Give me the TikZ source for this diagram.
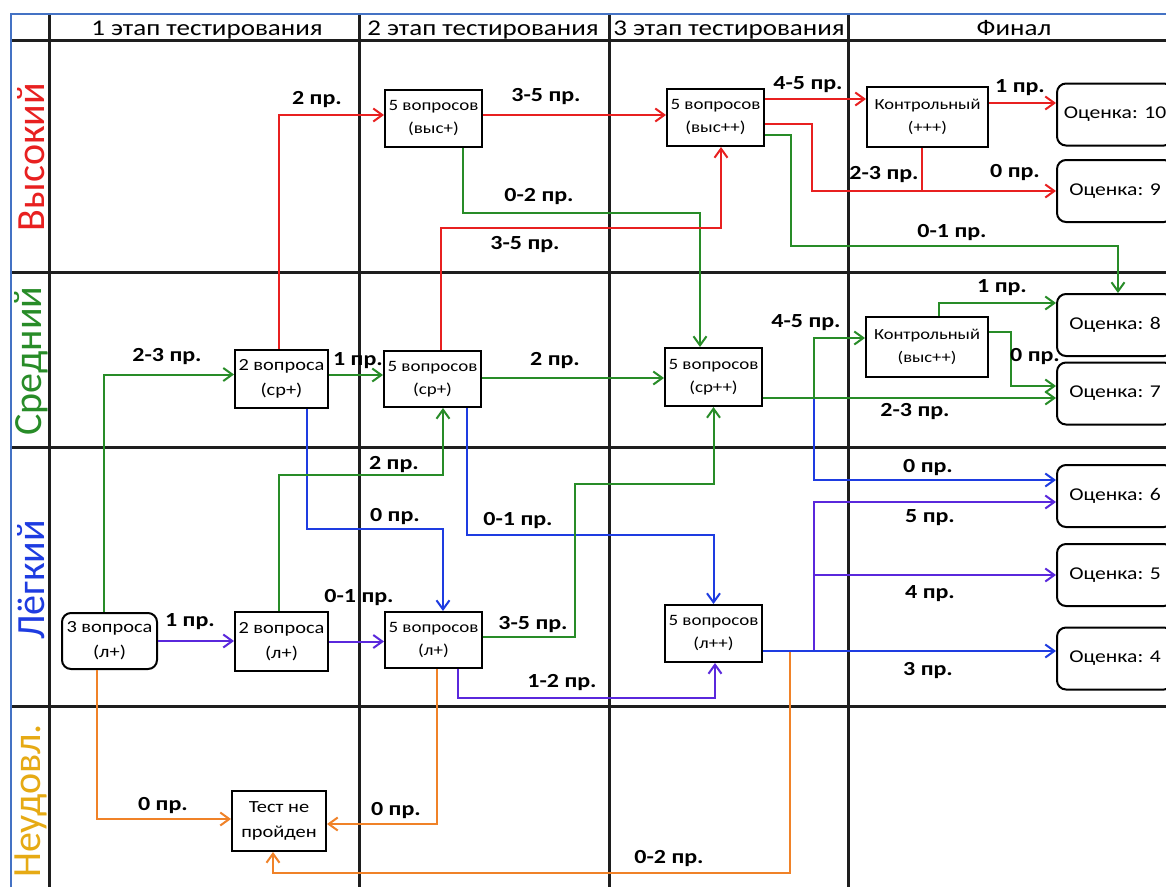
\documentclass[tikz,border=0pt]{standalone}
\usepackage{fontspec}
\setmainfont{Carlito}[FakeStretch=1.2]
\newfontfamily\rowfont{Carlito}
\usetikzlibrary{arrows.meta,calc}
\definecolor{cred}{RGB}{232,32,32}
\definecolor{cgrn}{RGB}{40,140,40}
\definecolor{cblu}{RGB}{30,60,225}
\definecolor{cvio}{RGB}{90,40,220}
\definecolor{cora}{RGB}{240,130,40}
\definecolor{cyel}{RGB}{230,170,20}
\definecolor{cbrd}{RGB}{68,114,196}
\definecolor{cgrid}{RGB}{30,30,30}
\tikzset{
 box/.style={draw=black, line width=2pt, fill=white, inner sep=0pt, align=center, font=\fontsize{15.8}{23}\selectfont},
 rbox/.style={box, rounded corners=9pt},
 grade/.style={rbox, minimum width=116pt, minimum height=62pt, font=\fontsize{18}{20}\selectfont},
 con/.style={line width=2pt, -{Straight Barb[length=9pt,width=13pt]}},
 lnk/.style={line width=2pt},
 lbl/.style={font=\bfseries\fontsize{20}{22}\selectfont, inner sep=0pt},
 gridline/.style={line width=3pt, cgrid},
 hdr/.style={font=\fontsize{22.5}{24}\selectfont, inner sep=0pt, anchor=base},
 rowlbl/.style={rotate=90, font=\rowfont\fontsize{40}{42}\selectfont, inner sep=0pt},
}
\begin{document}
\begin{tikzpicture}[x=1pt,y=-1pt]
\useasboundingbox (0,0) rectangle (1166,887);
\clip (0,0) rectangle (1166,887);
\fill[white] (0,0) rectangle (1166,887);
% grid
\foreach \yy in {40,272,447,706} \draw[gridline] (11,\yy) -- (1166,\yy);
\foreach \xx in {49,359,609,848} \draw[gridline] (\xx,14) -- (\xx,887);
\draw[cbrd, line width=2.2pt] (11,887) -- (11,14) -- (1166,14);
% headers
\node[hdr] (h1) at (207,35) {1 этап тестирования};
\node[hdr] (h2) at (483,35) {2 этап тестирования};
\node[hdr] (h3) at (729,35) {3 этап тестирования};
\node[hdr] (h4) at (1014,35) {Финал};
% row labels
\node[rowlbl, text=cred] (r1) at (31,157) {Высокий};
\node[rowlbl, text=cgrn] (r2) at (31,361) {Средний};
\node[rowlbl, text=cblu] (r3) at (31,580) {Лёгкий};
\node[rowlbl, text=cyel] (r4) at (31,801) {Неудовл.};
% nodes
\node[rbox, minimum width=95pt, minimum height=56pt, font=\fontsize{17}{25}\selectfont] (A) at (109.5,641) {3 вопроса\\(л+)};
\node[box, minimum width=93pt, minimum height=59pt, font=\fontsize{17}{25}\selectfont] (B) at (281.5,641.5) {2 вопроса\\(л+)};
\node[box, minimum width=97pt, minimum height=56pt] (C) at (433.5,640) {5 вопросов\\(л+)};
\node[box, minimum width=97pt, minimum height=57pt] (D) at (713.5,633.5) {5 вопросов\\(л++)};
\node[box, minimum width=94pt, minimum height=60pt, font=\fontsize{17}{25}\selectfont] (E) at (279,821) {Тест не\\пройден};
\node[box, minimum width=93pt, minimum height=58pt, font=\fontsize{17}{25}\selectfont] (F) at (281.5,379) {2 вопроса\\(ср+)};
\node[box, minimum width=97pt, minimum height=56pt] (G) at (432.5,379) {5 вопросов\\(ср+)};
\node[box, minimum width=97pt, minimum height=58pt] (H) at (713.5,377) {5 вопросов\\(ср++)};
\node[box, minimum width=122pt, minimum height=60pt, font=\fontsize{15.4}{23}\selectfont] (I) at (927,347) {Контрольный\\(выс++)};
\node[box, minimum width=97pt, minimum height=57pt] (J) at (433.5,118.5) {5 вопросов\\(выс+)};
\node[box, minimum width=97pt, minimum height=57pt] (K) at (715.5,117.5) {5 вопросов\\(выс++)};
\node[box, minimum width=121pt, minimum height=60pt, font=\fontsize{15.4}{23}\selectfont] (L) at (927.5,117) {Контрольный\\(+++)};
\node[grade] (O10) at (1115,114.5) {Оценка: 10};
\node[grade] (O9) at (1115,191) {Оценка: 9};
\node[grade] (O8) at (1115,325) {Оценка: 8};
\node[grade] (O7) at (1115,393.5) {Оценка: 7};
\node[grade] (O6) at (1115,496) {Оценка: 6};
\node[grade] (O5) at (1115,575) {Оценка: 5};
\node[grade] (O4) at (1115,658.5) {Оценка: 4};
% connectors: orange
\draw[con, cora] ([xshift=-12.5pt]A.south) |- ([yshift=2pt]E.west);
\draw[con, cora] ([xshift=3.5pt]C.south) |- ([yshift=-3pt]E.east);
\draw[con, cora] ([yshift=-17.5pt]D.east) -- ++(27,0) -- ++(0,222) -| ([xshift=-6pt]E.south);
% violet
\draw[con, cvio] (A.east) -- (A.east -| B.west);
\draw[con, cvio] (B.east) -- (B.east -| C.west);
\draw[con, cvio] ([xshift=24.5pt]C.south) -- ++(0,29) -| ([xshift=1.5pt]D.south);
\draw[con, cvio] ([yshift=-17.5pt]D.east) -- ++(51,0) |- ([yshift=-6pt]O6.west);
\draw[con, cvio] ([yshift=-17.5pt]D.east) -- ++(51,0) |- (O5.west);
% blue
\draw[con, cblu] ([yshift=-17.5pt]D.east) -- ([yshift=-17.5pt]D.east -| O4.west);
\draw[con, cblu] ([xshift=25.5pt]F.south) -- ++(0,120) -| ([xshift=9.5pt]C.north);
\draw[con, cblu] ([xshift=34.5pt]G.south) -- ++(0,127) -| (D.north);
\draw[con, cblu] ([yshift=-21pt]H.east) -- ++(51,0) |- ([yshift=16pt]O6.west);
% green
\draw[con, cgrn] ([xshift=-5.5pt]A.north) |- ([yshift=4.5pt]F.west);
\draw[con, cgrn] ([xshift=-2.5pt]B.north) -- ++(0,-136) -| ([xshift=10.5pt]G.south);
\draw[con, cgrn] ([yshift=4pt]F.east) -- ([yshift=4pt]F.east -| G.west);
\draw[con, cgrn] ([yshift=1pt]G.east) -- ([yshift=1pt]G.east -| H.west);
\draw[con, cgrn] ([yshift=3pt]C.east) -- ++(92,0) -- ++(0,-153) -| (H.south);
\draw[con, cgrn] ([xshift=29.5pt]J.south) -- ++(0,65) -| ([xshift=-13.5pt]H.north);
\draw[con, cgrn] ([yshift=-21pt]H.east) -- ([yshift=-21pt]H.east -| O7.west);
\draw[con, cgrn] ([yshift=-21pt]H.east) -- ++(51,0) |- ([yshift=9pt]I.west);
\draw[con, cgrn] ([xshift=12pt]I.north) |- ([yshift=22pt]O8.west);
\draw[con, cgrn] ([yshift=15pt]I.east) -- ++(22,0) |- ([yshift=7.5pt]O7.west);
\draw[con, cgrn] ([yshift=-17.5pt]K.east) -- ++(26,0) -- ++(0,111) -| ([xshift=3pt]O8.north);
% red
\draw[con, cred] ([xshift=-2.5pt]F.north) |- ([yshift=3.5pt]J.west);
\draw[con, cred] ([xshift=8.5pt]G.north) -- ++(0,-122) -| ([xshift=5.5pt]K.south);
\draw[con, cred] ([yshift=3.5pt]J.east) -- ([yshift=3.5pt]J.east -| K.west);
\draw[con, cred] ([yshift=18.5pt]K.east) -- ([yshift=18.5pt]K.east -| L.west);
\draw[con, cred] ([yshift=-6.5pt]K.east) -- ++(47,0) |- (O9.west);
\draw[lnk, cred] ([xshift=-5.5pt]L.south) -- ([xshift=-5.5pt]L.south |- O9.west);
\draw[con, cred] ([yshift=14pt]L.east) -- ([yshift=14pt]L.east -| O10.west);
% labels
\node[lbl] (l1) at (190,622) {1 пр.};
\node[lbl] (l2) at (167,357) {2-3 пр.};
\node[lbl] (l3) at (163,805) {0 пр.};
\node[lbl] (l4) at (359,598) {0-1 пр.};
\node[lbl] (l5) at (394,465) {2 пр.};
\node[lbl] (l6) at (358,361) {1 пр.};
\node[lbl] (l7) at (317,100) {2 пр.};
\node[lbl] (l8) at (395,517) {0 пр.};
\node[lbl] (l9) at (555,361) {2 пр.};
\node[lbl] (l10) at (525,245) {3-5 пр.};
\node[lbl] (l11) at (518,521) {0-1 пр.};
\node[lbl] (l12) at (533,625) {3-5 пр.};
\node[lbl] (l13) at (562,682) {1-2 пр.};
\node[lbl] (l14) at (396,810) {0 пр.};
\node[lbl] (l15) at (669,858) {0-2 пр.};
\node[lbl] (l16) at (928,670) {3 пр.};
\node[lbl] (l17) at (930,518) {5 пр.};
\node[lbl] (l18) at (930,594) {4 пр.};
\node[lbl] (l19) at (806,323) {4-5 пр.};
\node[lbl] (l20) at (915,412) {2-3 пр.};
\node[lbl] (l21) at (928,468) {0 пр.};
\node[lbl] (l22) at (1002,288) {1 пр.};
\node[lbl] (l23) at (1035,357) {0 пр.};
\node[lbl] (l24) at (546,97) {3-5 пр.};
\node[lbl] (l25) at (539,197) {0-2 пр.};
\node[lbl] (l26) at (808,85) {4-5 пр.};
\node[lbl] (l27) at (884,175) {2-3 пр.};
\node[lbl] (l28) at (1015,173) {0 пр.};
\node[lbl] (l29) at (1020,88) {1 пр.};
\node[lbl] (l30) at (952,233) {0-1 пр.};
\end{tikzpicture}
\end{document}
